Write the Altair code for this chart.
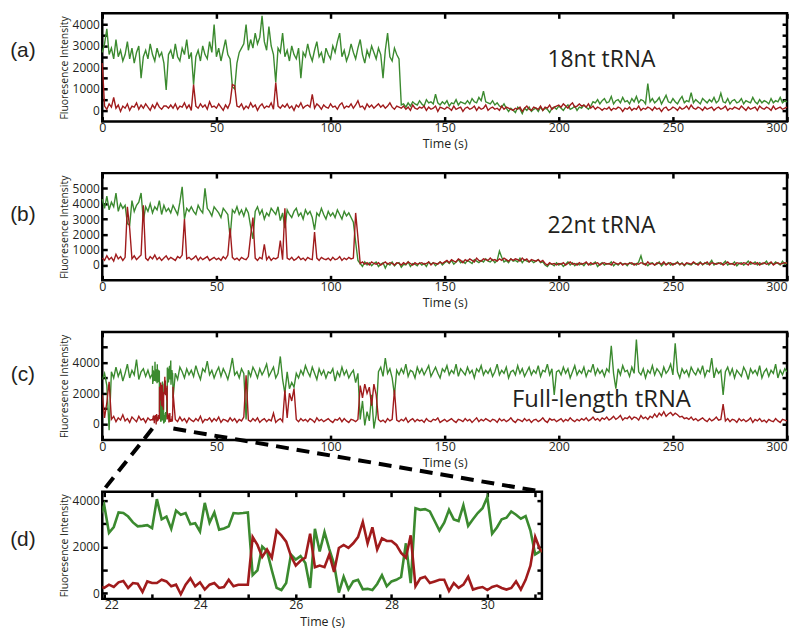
import altair as alt
import pandas as pd

# ------------------------------------------------------------------ data
TIME_MAIN = list(range(0, 301))  # 1 s sampling, panels (a)-(b)

GREEN_A = [
    2700, 3100, 3800, 2600, 2900, 2400, 3300, 2500, 2800, 2300,
    2600, 3200, 2400, 2900, 2200, 2700, 3000, 1500, 2500, 2800,
    2400, 3100, 2600, 2300, 2900, 2500, 2700, 2200, 950, 2600,
    2800, 2400, 3100, 2500, 2300, 2900, 2600, 3300, 2400, 2700,
    1200, 2500, 2800, 2300, 3000, 2600, 2400, 3200, 2700, 4000,
    2500, 2900, 2300, 2800, 3300, 2600, 2400, 1100, 1000, 2200,
    2700, 2900, 3100, 4000, 2800, 3300, 2900, 3600, 3100, 3400,
    4400, 3200, 2800, 3900, 3000, 2600, 1300, 2900, 2700, 3600,
    2500, 2800, 2300, 3000, 2600, 2400, 2900, 1500, 2700, 2500,
    3100, 2600, 2300, 2800, 3200, 2500, 2700, 2200, 2900, 2600,
    2400, 3000, 2700, 3200, 3600, 2500, 2800, 2300, 2600, 3100,
    2700, 2400, 2900, 3300, 2600, 2200, 2800, 2500, 3000, 2700,
    2400, 2900, 2600, 1500, 2800, 3600, 2500, 2300, 2900, 2600,
    2400, 250, 300, 150, 350, 200, 400, 300, 250, 450,
    300, 200, 500, 350, 400, 300, 750, 350, 250, 400,
    300, 450, 200, 350, 300, 500, 250, 400, 350, 300,
    450, 300, 550, 400, 350, 600, 450, 900, 400, 350,
    300, 450, 250, 350, 200, 150, 300, 100, -50, 100,
    0, -100, 150, 50, -150, 100, 0, 150, -50, 50,
    100, -50, 150, 0, 100, 50, -100, 100, 150, 50,
    200, 100, 0, 150, 250, 50, 100, 200, 0, 150,
    100, 250, 150, 50, 200, 400, 350, 500, 300, 450,
    550, 350, 400, 650, 300, 450, 500, 350, 600, 400,
    450, 300, 550, 400, 650, 350, 500, 450, 300, 1250,
    400, 550, 350, 450, 600, 300, 500, 700, 400, 350,
    550, 400, 300, 500, 650, 350, 450, 400, 830, 350,
    500, 400, 300, 550, 450, 350, 500, 400, 600, 350,
    450, 800, 400, 350, 550, 300, 450, 500, 350, 400,
    550, 300, 450, 400, 350, 600, 400, 300, 500, 350,
    450, 400, 300, 550, 350, 450, 400, 600, 350, 450,
    400,
]
RED_A = [
    2200, 200, 50, 300, 150, 600, 100, 250, -50, 200,
    100, 300, 0, 200, 150, 350, 50, 250, 100, 300,
    150, 0, 250, 100, 350, 150, 50, 200, 200, 100,
    250, 100, 300, 50, 200, 150, 350, 100, 250, 0,
    1200, 200, 100, 300, 150, 250, 50, 400, 150, 200,
    100, 300, 150, 0, 250, 100, 350, 1200, 1150, 200,
    150, 300, 50, 200, 100, 350, 150, 250, 0, 200,
    300, 100, 200, 150, 350, 50, 1300, 200, 100, 250,
    150, 300, 100, 200, 0, 250, 150, 350, 100, 200,
    250, 150, 750, 100, 300, 200, 50, 250, 150, 100,
    300, 150, 200, 50, 250, 350, 100, 200, 150, 300,
    100, 250, 450, 150, 200, 50, 300, 150, 250, 100,
    200, 300, 150, 250, 100, 200, 350, 150, 50, 200,
    150, 100, 200, 50, 150, 0, 250, 100, 50, 150,
    100, 200, 0, 150, 50, 100, 200, -50, 150, 100,
    50, 150, 100, 0, 200, 50, 100, 150, -50, 100,
    150, 50, 100, 200, 0, 150, 50, 100, 250, 0,
    100, 150, 50, 100, 0, 200, 50, 150, 100, 50,
    0, 100, 50, 150, -50, 100, 200, 50, 0, 150,
    100, 50, 200, 0, 150, 100, 250, 50, 150, 200,
    250, 150, 300, 200, 100, 250, 350, 150, 200, 300,
    200, 250, 150, 300, 100, 200, 50, 150, 100, 0,
    100, 50, 150, 0, 100, 50, 150, 100, -50, 100,
    50, 150, 0, 100, 50, 200, 0, 100, 50, 150,
    100, 0, 150, 50, 100, -50, 100, 150, 0, 50,
    150, 100, 0, 150, 50, 100, 200, 50, 250, 100,
    50, 150, 100, 0, 150, 50, 100, 150, 0, 100,
    150, 50, 100, 200, 0, 100, 50, 150, 100, 50,
    200, 100, 0, 150, 50, 100, 150, 0, 200, 100,
    50, 150, 100, 0, 200, 50, 100, 150, 50, 100,
    150,
]

GREEN_B = [
    4300, 3700, 4500, 3600, 4100, 3800, 4700, 3500, 4000, 3700,
    3900, 2700, 2600, 4200, 3500, 3900, 4100, 4700, 2900, 3800,
    3500, 4000, 3400, 3800, 3600, 4200, 3300, 3900, 3500, 3700,
    3400, 3900, 3600, 3300, 4100, 5100, 3000, 3700, 3500, 3800,
    3500, 3300, 3900, 3600, 3400, 5000, 3700, 3500, 3200, 3800,
    3600, 3400, 3100, 3700, 3500, 3300, 1800, 3600, 3400, 3800,
    3300, 3600, 3200, 3700, 3400, 2500, 1700, 3500, 3800, 3300,
    3600, 3000, 3400, 3200, 3700, 3500, 3300, 3800, 2900, 3400,
    2400, 3600, 3300, 3100, 3500, 3700, 3200, 3400, 3000, 3600,
    3300, 3500, 3100, 2300, 3400, 3200, 3700, 3300, 3000, 3500,
    3200, 3400, 3100, 3600, 3300, 3000, 3500, 3200, 3400, 3100,
    2800, 1500, 300, 100, -100, 200, 0, 150, -50, 100,
    200, -100, 50, 150, -200, 100, 0, 200, -50, 100,
    150, -150, 50, 0, 200, -100, 100, 50, -50, 150,
    0, 100, -100, 200, 50, 150, -50, 100, 200, 0,
    150, 250, 100, 300, 50, 200, 350, 150, 250, 100,
    300, 200, 100, 350, 250, 150, 300, 200, 400, 250,
    200, 350, 150, 300, 900, 500, 200, 300, 150, 400,
    250, 300, 200, 450, 150, 350, 250, 200, 300, 150,
    250, 350, 150, 200, 0, -100, 100, 50, -50, 150,
    0, 100, -100, 50, 200, 0, 150, -50, 100, 0,
    100, -50, 150, 50, 0, 100, 200, -100, 50, 150,
    0, 100, 50, 200, -50, 100, 0, 150, 50, 100,
    -50, 150, 50, 100, 0, 200, 600, 50, 100, -50,
    100, 150, 0, 50, 200, -50, 100, 50, 150, 0,
    100, 50, 200, 0, 150, -50, 100, 50, 0, 150,
    50, 100, 200, 0, 150, 50, 100, 300, 0, 100,
    150, 50, 100, 250, 0, 100, 50, 200, -50, 100,
    150, 0, 100, 250, 50, 100, 200, 0, 150, 50,
    100, 250, 0, 150, 50, 200, 100, 0, 250, 50,
    150,
]
RED_B = [
    450, 300, 600, 350, 500, 250, 700, 400, 550, 300,
    500, 3800, 2400, 400, 600, 350, 500, 650, 3900, 450,
    300, 550, 400, 650, 350, 500, 300, 450, 600, 350,
    500, 400, 300, 550, 450, 650, 3000, 400, 500, 350,
    450, 600, 300, 500, 350, 450, 550, 300, 400, 500,
    350, 450, 300, 550, 400, 650, 2400, 500, 350, 450,
    300, 500, 400, 350, 550, 1900, 3100, 450, 300, 500,
    400, 1350, 350, 550, 300, 450, 400, 500, 1600, 350,
    3700, 450, 350, 500, 300, 400, 550, 350, 450, 300,
    500, 400, 350, 2150, 450, 300, 500, 400, 350, 450,
    300, 500, 350, 400, 550, 300, 450, 350, 500, 400,
    450, 3400, 1800, 100, 200, 50, 150, 0, 200, 100,
    50, 150, 0, 100, 200, 50, 150, 100, 0, 150,
    100, 0, 150, 50, 200, 100, 0, 150, 50, 100,
    150, 50, 100, 200, 0, 150, 100, 50, 200, 100,
    200, 300, 150, 350, 250, 200, 400, 300, 150, 350,
    250, 400, 300, 200, 450, 300, 250, 400, 350, 300,
    450, 300, 350, 250, 400, 300, 450, 350, 250, 400,
    300, 400, 350, 250, 450, 300, 400, 200, 350, 300,
    250, 350, 200, 300, 100, 0, 150, 50, 100, 0,
    100, 50, 150, 0, 100, 200, 50, 100, 0, 150,
    50, 100, 200, 0, 150, 50, 100, 150, 0, 100,
    150, 50, 100, 0, 200, 100, 50, 150, 0, 100,
    50, 100, 150, 0, 100, 50, 150, 100, 0, 200,
    50, 100, 0, 150, 100, 50, 200, 0, 100, 150,
    0, 100, 150, 50, 100, 0, 150, 100, 50, 200,
    100, 0, 150, 50, 100, 200, 0, 150, 100, 50,
    100, 150, 0, 100, 200, 50, 100, 0, 150, 100,
    50, 150, 100, 0, 200, 100, 50, 150, 0, 100,
    150, 50, 100, 200, 0, 100, 150, 50, 100, 150,
    100,
]

# panel (c): 1 s samples outside the zoom window, 0.1 s frames inside it (same as panel d)
TIME_C_HEAD = list(range(0, 22))
GREEN_C_HEAD = [2900, 3300, 2500, -400, 3400, 3000, 3700, 3100, 3500, 2800,
                3300, 3900, 3000, 3500, 3200, 4200, 2900, 3400, 3600, 3100,
                3500, 3000]
RED_C_HEAD = [1900, 400, 1400, 2750, 300, 500, 150, 400, 250, 600,
              200, 350, 100, 450, 300, 150, 500, 250, 350, 100,
              400, 250]
TIME_C_TAIL = list(range(32, 301))
GREEN_C_TAIL = [
    3300, 2900, 3700, 3400, 3000, 3600, 3200, 3500,
    3100, 3800, 3300, 2900, 3600, 3400, 4100, 3200, 3500, 3000,
    3400, 3700, 3100, 3600, 3300, 2900, 3500, 4300, 3200, 3400,
    3000, 3600, 3300, 300, 3500, 3100, 3700, 3400, 3000, 3600,
    3200, 3500, 3900, 3100, 3400, 3700, 3000, 3300, 4400, 2900,
    2000, 3400, 2300, 2700, 2400, 3300, 3000, 3500, 3200, 3800,
    3400, 3100, 3700, 3300, 2900, 3600, 3200, 3500, 3000, 3400,
    3300, 3600, 2800, 3400, 3100, 3700, 3200, 3500, 3000, 3300,
    3500, 2700, 3300, 300, 1500, -100, 800, 200, 1900, -300,
    600, 3400, 3700, 3100, 4300, 3300, 3600, 3000, 1900, 3500,
    3200, 3600, 3300, 3900, 3100, 3500, 3400, 3000, 3700, 3300,
    3600, 3200, 3500, 3800, 3100, 3400, 3700, 3300, 3000, 3600,
    3400, 3800, 3200, 3500, 3300, 3900, 3100, 3600, 3400, 3200,
    3700, 3300, 3500, 3000, 3600, 3400, 3800, 3200, 3500, 3300,
    3600, 3100, 3400, 3900, 3200, 3500, 3300, 3700, 3000, 3400,
    3500, 3200, 3800, 3300, 3600, 3100, 3400, 3700, 3200, 3500,
    3300, 3800, 3100, 3500, 3400, 3900, 3200, 3600, 1900, 3400,
    3500, 3200, 3700, 3300, 3600, 3000, 3400, 3800, 3200, 3500,
    3300, 3700, 3100, 3500, 3400, 3900, 3200, 3600, 3300, 3500,
    3100, 3600, 3400, 5100, 3300, 2300, 3600, 3200, 3800, 3400,
    3500, 3100, 3700, 3300, 5500, 3400, 3200, 3600, 3000, 3500,
    3300, 3800, 3200, 3600, 3400, 3100, 3700, 3300, 3500, 3900,
    3200, 5250, 3400, 3000, 3600, 3300, 3500, 3100, 3700, 3400,
    3200, 3600, 3300, 3800, 3100, 3500, 3400, 4300, 3000, 3600,
    3300, 3500, 1900, 3400, 3700, 3200, 3600, 3000, 3500, 3300,
    3100, 3700, 3400, 2900, 3600, 3300, 3500, 3200, 3800, 3000,
    3400, 3600, 3100, 3500, 3300, 3900, 3000, 3500, 3200, 3600,
    3400,
]
RED_C_TAIL = [
    300, 150, 450, 200, 350, 100, 400, 250,
    150, 350, 200, 500, 100, 300, 250, 400, 150, 350,
    200, 450, 100, 300, 250, 150, 400, 200, 350, 100,
    300, 200, 450, 3170, 250, 150, 350, 200, 400, 100,
    250, 350, 150, 300, 200, 700, 100, 250, 350, 150,
    2200, 400, 2000, 1500, 2300, 300, 150, 350, 200, 300,
    150, 350, 250, 100, 400, 200, 300, 150, 250, 350,
    200, 100, 300, 250, 400, 150, 350, 200, 100, 300,
    250, 150, 300, 2500, 1700, 2600, 2000, 2400, 1200, 2600,
    1900, 300, 150, 250, 100, 350, 200, 300, 2230, 250,
    150, 300, 200, 400, 100, 250, 350, 150, 300, 200,
    250, 100, 350, 200, 150, 300, 250, 400, 100, 200,
    300, 150, 250, 350, 200, 100, 300, 250, 150, 350,
    200, 300, 100, 250, 400, 150, 300, 200, 350, 250,
    150, 300, 250, 100, 350, 200, 300, 150, 250, 400,
    200, 100, 300, 250, 150, 350, 200, 300, 100, 250,
    300, 150, 250, 400, 200, 100, 350, 250, 300, 150,
    250, 350, 150, 300, 200, 400, 250, 150, 300, 200,
    350, 250, 400, 200, 300, 450, 250, 350, 200, 400,
    300, 450, 250, 350, 500, 300, 400, 550, 250, 400,
    350, 500, 300, 450, 400, 250, 550, 350, 450, 300,
    500, 400, 650, 450, 700, 550, 800, 500, 650, 750,
    550, 700, 600, 450, 500, 350, 400, 300, 450, 250,
    350, 200, 300, 400, 250, 150, 350, 200, 300, 450,
    250, 300, 1300, 200, 350, 150, 300, 250, 100, 350,
    200, 300, 150, 250, 400, 100, 300, 200, 350, 150,
    250, 100, 300, 200, 150, 350, 200, 100, 300, 250,
    200,
]

# panel (d): 0.1 s frames, 21.9 s to 31.2 s
TIME_D = [round(21.9 + 0.1 * i, 1) for i in range(94)]
GREEN_D = [
    3250,
    3800, 2600, 2850, 3480, 3450, 3300, 3050, 2880, 2900, 2930,
    2800, 4050, 3180, 3300, 2770, 3560, 3380, 3450, 2970, 3010,
    2660, 3890, 3040, 3480, 2740, 2790, 2880, 3450, 3430, 3450,
    3480, 780, 990, 2010, 1810, 990, 230, 140, 440, 1670,
    1450, 1600, 1300, 230, 2770, 1800, 2630, 1900, 1260, 30,
    710, 170, 510, 580, 170, 190, 140, 400, 780, 300,
    510, 580, 700, 2150, 440, 3660, 3590, 3620, 3520, 3110,
    2700, 3040, 3590, 3180, 3110, 3790, 2900, 3180, 3450, 3660,
    4140, 2560, 2830, 3180, 3250, 3520, 3380, 3210, 3320, 2700,
    1670, 1800, 2000,
]
RED_D = [
    300,
    230, 370, 270, 470, 530, 230, 440, 410, 55, 510,
    440, 440, 580, 510, 300, 370, -40, 370, 640, 300,
    470, 160, 370, 440, 230, 270, 580, 300, 370, 370,
    370, 2420, 2080, 1560, 1880, 1530, 2700, 2490, 2220, 1600,
    1190, 1400, 1530, 2560, 1120, 1190, 1120, 1670, 920, 1950,
    2080, 1950, 2150, 2420, 3070, 2150, 2840, 1880, 2360, 2250,
    2250, 2080, 1740, 1530, 2490, 300, 640, 710, 440, 510,
    580, 580, 100, 440, 230, 370, 710, 160, 230, 270,
    140, 270, 330, 230, 160, 230, 510, 160, 580, 1190,
    2420, 1880, 1700,
]

X_TICKS_MAIN = [0, 50, 100, 150, 200, 250, 300]
X_TICKS_D = [22, 23, 24, 25, 26, 27, 28, 29, 30, 31]
Y_TICKS_A = [0, 500, 1000, 1500, 2000, 2500, 3000, 3500, 4000]
Y_TICKS_B = [0, 1000, 2000, 3000, 4000, 5000]
Y_TICKS_C = [0, 1000, 2000, 3000, 4000, 5000]
Y_TICKS_D = [0, 1000, 2000, 3000, 4000]
PANEL_TAGS = ["(a)", "(b)", "(c)", "(d)"]
PANEL_NAMES = ["18nt tRNA", "22nt tRNA", "Full-length tRNA"]
X_TITLE = "Time (s)"
Y_TITLE = "Fluoresence Intensity"

# ------------------------------------------------------------------ style / layout
GREEN = "#3b8a2f"
RED = "#a01b1c"
INK = "#231f20"
FONT = "Open Sans"
TAG_FONT = "Liberation Sans"

W_MAIN, W_ZOOM = 690, 443
H_A, H_B, H_C, H_D = 109, 108, 109, 108
SPACING = 52
XDOM_MAIN = [0, 300]
XDOM_D = [21.96, 31.14]
YDOM_A = [-520, 4520]
YDOM_B = [-1000, 6000]
YDOM_C = [-1050, 6000]
YDOM_D = [-240, 4370]


def panel(t, g, r, xdom, ydom, w, h, xticks, xstep, xflush_l, xflush_r, yticks, ystep,
          lw, clip, texts, rules=None):
    n = min(len(t), len(g), len(r))
    df = pd.DataFrame({"t": t[:n], "green": g[:n], "red": r[:n]})
    xs = alt.Scale(domain=xdom, nice=False, zero=False)
    ys = alt.Scale(domain=ydom, nice=False, zero=False)
    tick = dict(tickSize=5, tickWidth=2.5, tickColor="black", offset=-5,
                domain=False, grid=False)
    ax_bottom = alt.Axis(
        orient="bottom", values=xticks, format="d",
        labelExpr=f"datum.value % {xstep} == 0 ? datum.label : ''",
        labelFlush=False,
        labelAlign={"condition": [
            {"test": f"datum.value >= {xflush_r}", "value": "right"},
            {"test": f"datum.value <= {xflush_l}", "value": "left"}],
            "value": "center"},
        labelFont=FONT, labelFontSize=12.5, labelColor=INK, labelPadding=0,
        title=X_TITLE, titleFont=FONT, titleFontSize=12.5, titleFontWeight="normal",
        titleColor=INK, titlePadding=4, **tick)
    ax_top = alt.Axis(orient="top", values=xticks, labels=False, title=None, **tick)
    ax_left = alt.Axis(
        orient="left", values=yticks, format="d",
        labelExpr=f"datum.value % {ystep} == 0 ? datum.label : ''",
        labelFont=FONT, labelFontSize=12, labelColor=INK, labelPadding=3,
        title=Y_TITLE, titleFont=FONT, titleFontSize=10.5, titleFontWeight="normal",
        titleColor=INK, titlePadding=3, **tick)
    ax_right = alt.Axis(orient="right", values=yticks, labels=False, title=None, **tick)

    base = alt.Chart(df)
    green = base.mark_line(color=GREEN, strokeWidth=lw, clip=clip).encode(
        x=alt.X("t:Q", scale=xs, axis=ax_bottom),
        y=alt.Y("green:Q", scale=ys, axis=ax_left),
    )
    red = base.mark_line(color=RED, strokeWidth=lw, clip=clip).encode(
        x=alt.X("t:Q", scale=xs, axis=ax_top),
        y=alt.Y("red:Q", scale=ys, axis=ax_right),
    )
    layers = [green, red]
    for (tx, ty, txt, font, size) in texts:
        layers.append(
            alt.Chart(pd.DataFrame({"x": [tx], "y": [ty], "s": [txt]}))
            .mark_text(font=font, fontSize=size, color=INK, align="center", baseline="middle")
            .encode(x=alt.X("x:Q", scale=xs, axis=None),
                    y=alt.Y("y:Q", scale=ys, axis=None),
                    text="s:N")
        )
    if rules is not None:
        layers.append(
            alt.Chart(rules)
            .mark_rule(color="black", strokeWidth=4, strokeDash=[13, 8])
            .encode(x=alt.X("x:Q", scale=xs, axis=None),
                    y=alt.Y("y:Q", scale=ys, axis=None),
                    x2="x2:Q", y2="y2:Q")
        )
    return (alt.layer(*layers)
            .resolve_axis(x="independent", y="independent")
            .properties(width=w, height=h))


# tag positions (in each panel's data units)
px_main = W_MAIN / (XDOM_MAIN[1] - XDOM_MAIN[0])
px_d = W_ZOOM / (XDOM_D[1] - XDOM_D[0])
tag_x_main = XDOM_MAIN[0] - 80 / px_main
tag_x_d = XDOM_D[0] - 80 / px_d
name_x = XDOM_MAIN[0] + 503 / px_main

pa = panel(TIME_MAIN, GREEN_A, RED_A, XDOM_MAIN, YDOM_A, W_MAIN, H_A,
           X_TICKS_MAIN, 50, -1, 300, Y_TICKS_A, 1000, 1.4, False,
           [(tag_x_main, 2780, PANEL_TAGS[0], TAG_FONT, 21),
            (name_x, 2330, PANEL_NAMES[0], FONT, 23)])
pb = panel(TIME_MAIN, GREEN_B, RED_B, XDOM_MAIN, YDOM_B, W_MAIN, H_B,
           X_TICKS_MAIN, 50, -1, 300, Y_TICKS_B, 1000, 1.4, False,
           [(tag_x_main, 3250, PANEL_TAGS[1], TAG_FONT, 21),
            (name_x, 2550, PANEL_NAMES[1], FONT, 23)])

# zoom connector lines: from the zoom window in (c) to the top corners of (d)
c_units_per_px = (YDOM_C[1] - YDOM_C[0]) / H_C
y_top_d = YDOM_C[0] - SPACING * c_units_per_px
x_right_d = XDOM_MAIN[0] + W_ZOOM / px_main
rules_c = pd.DataFrame({
    "x": [XDOM_D[0], XDOM_D[1]],
    "y": [-300, -300],
    "x2": [XDOM_MAIN[0], x_right_d],
    "y2": [y_top_d, y_top_d],
})
pc = panel(TIME_C_HEAD + TIME_D + TIME_C_TAIL,
           GREEN_C_HEAD + GREEN_D + GREEN_C_TAIL,
           RED_C_HEAD + RED_D + RED_C_TAIL,
           XDOM_MAIN, YDOM_C, W_MAIN, H_C,
           X_TICKS_MAIN, 50, -1, 300, Y_TICKS_C, 2000, 1.4, True,
           [(tag_x_main, 3220, PANEL_TAGS[2], TAG_FONT, 21),
            (name_x, 1550, PANEL_NAMES[2], FONT, 24)],
           rules=rules_c)
pd_ = panel(TIME_D, GREEN_D, RED_D, XDOM_D, YDOM_D, W_ZOOM, H_D,
            X_TICKS_D, 2, 22, 999, Y_TICKS_D, 2000, 2.6, True,
            [(tag_x_d, 2275, PANEL_TAGS[3], TAG_FONT, 21)])

chart = (
    alt.vconcat(pa, pb, pc, pd_, spacing=SPACING, bounds="flush", padding=0,
                background="white")
    .configure_view(stroke="black", strokeWidth=2.5)
)

chart.save("out.html", embed_options={"renderer": "svg", "actions": False})
